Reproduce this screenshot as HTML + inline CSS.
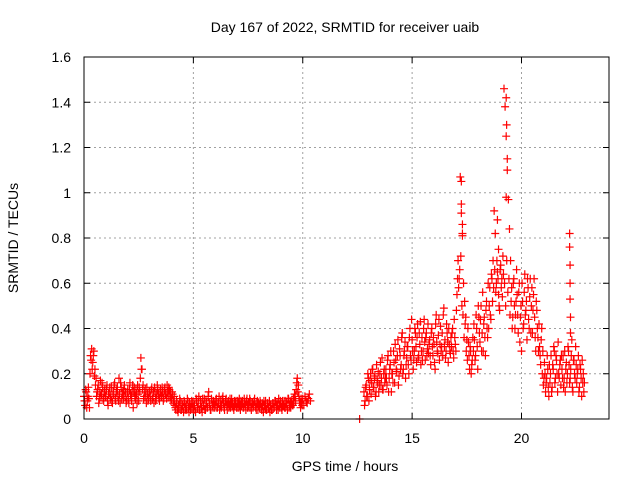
<!DOCTYPE html>
<html><head><meta charset="utf-8"><style>
body{margin:0;background:#fff}
svg{display:block;font-family:"Liberation Sans",sans-serif;font-size:14px}
</style></head><body>
<svg id="chart" width="640" height="480">
<text x="345" y="32" text-anchor="middle">Day 167 of 2022, SRMTID for receiver uaib</text>
<text x="345" y="471" text-anchor="middle">GPS time / hours</text>
<text transform="translate(18,238) rotate(-90)" text-anchor="middle">SRMTID / TECUs</text>
<g id="grid"></g>
<g id="ticks"></g>
<g id="marks"></g>
<rect x="84" y="57" width="525" height="362" fill="none" stroke="#000"/>
</svg>
<script>
const xTicks=[0,5,10,15,20];
const yTicks=[0,0.2,0.4,0.6,0.8,1,1.2,1.4,1.6];
const yTickLabels=["0","0.2","0.4","0.6","0.8","1","1.2","1.4","1.6"];
const seg1Start=0, step=0.05;
const seg1Values=[0.10,0.06,0.12,0.08,0.14,0.05,0.28,0.31,0.25,0.30,0.22,0.18,0.12,0.15,0.09,0.17,0.11,0.14,0.08,0.13,
0.10,0.15,0.06,0.12,0.09,0.14,0.07,0.11,0.16,0.08,0.13,0.10,0.18,0.07,0.14,0.11,0.09,0.15,0.12,0.08,
0.13,0.07,0.16,0.10,0.12,0.05,0.14,0.09,0.11,0.15,0.08,0.12,0.27,0.22,0.15,0.10,0.13,0.07,0.11,0.09,
0.12,0.08,0.14,0.10,0.07,0.12,0.09,0.15,0.11,0.08,0.13,0.10,0.12,0.09,0.14,0.11,0.15,0.10,0.13,0.12,
0.09,0.11,0.08,0.06,0.04,0.07,0.03,0.05,0.08,0.04,0.06,0.03,0.07,0.05,0.04,0.08,0.03,0.06,0.05,0.07,
0.04,0.06,0.03,0.08,0.05,0.10,0.04,0.07,0.03,0.06,0.09,0.04,0.07,0.05,0.12,0.06,0.04,0.08,0.05,0.07,
0.06,0.09,0.05,0.07,0.04,0.08,0.06,0.10,0.05,0.07,0.09,0.04,0.08,0.06,0.05,0.09,0.07,0.04,0.06,0.08,
0.05,0.07,0.09,0.04,0.06,0.08,0.05,0.07,0.04,0.09,0.06,0.05,0.08,0.04,0.07,0.06,0.09,0.05,0.07,0.04,
0.06,0.08,0.05,0.07,0.03,0.06,0.08,0.04,0.07,0.05,0.03,0.06,0.04,0.07,0.05,0.08,0.04,0.06,0.09,0.05,
0.07,0.04,0.06,0.08,0.05,0.07,0.04,0.09,0.06,0.05,0.08,0.06,0.07,0.10,0.13,0.18,0.15,0.08,0.05,0.07,
0.09,0.06,0.10,0.08,0.07,0.09,0.11,0.08];
const seg1ValuesB=[0.08,0.13,0.05,0.10,0.09,0.20,0.26,0.22,0.28,0.19,0.15,0.10,0.13,0.07,0.12,0.10,0.16,0.09,0.12,0.10,
0.13,0.08,0.11,0.14,0.10,0.08,0.12,0.15,0.09,0.12,0.14,0.08,0.11,0.16,0.09,0.12,0.13,0.10,0.07,0.12,
0.09,0.13,0.11,0.08,0.15,0.12,0.10,0.13,0.07,0.11,0.14,0.18,0.22,0.13,0.09,0.12,0.10,0.14,0.08,0.12,
0.10,0.13,0.09,0.12,0.14,0.08,0.11,0.13,0.09,0.12,0.10,0.14,0.08,0.13,0.11,0.09,0.12,0.14,0.10,0.08,
0.12,0.07,0.10,0.05,0.08,0.04,0.06,0.09,0.04,0.07,0.05,0.08,0.04,0.06,0.09,0.05,0.07,0.04,0.08,0.05,
0.07,0.04,0.09,0.05,0.07,0.04,0.08,0.05,0.09,0.06,0.04,0.08,0.05,0.10,0.07,0.04,0.09,0.06,0.08,0.05,
0.08,0.05,0.07,0.10,0.06,0.05,0.09,0.07,0.04,0.08,0.06,0.07,0.05,0.09,0.07,0.06,0.05,0.08,0.07,0.05,
0.08,0.05,0.06,0.08,0.07,0.05,0.09,0.06,0.08,0.05,0.07,0.09,0.05,0.07,0.05,0.08,0.06,0.04,0.08,0.07,
0.05,0.07,0.04,0.06,0.08,0.05,0.04,0.07,0.05,0.08,0.06,0.04,0.07,0.05,0.08,0.06,0.07,0.04,0.06,0.08,
0.05,0.08,0.06,0.05,0.08,0.06,0.09,0.05,0.08,0.07,0.06,0.09,0.11,0.08,0.16,0.12,0.10,0.07,0.09,0.06];
const seg2Start=12.8;
const seg2Values=[0.12,0.08,0.15,0.10,0.18,0.13,0.20,0.16,0.22,0.14,0.19,0.12,0.17,0.21,0.15,0.25,0.18,0.13,0.20,0.16,
0.22,0.15,0.28,0.18,0.24,0.12,0.20,0.30,0.16,0.26,0.21,0.35,0.19,0.28,0.24,0.38,0.22,0.30,0.18,0.27,
0.32,0.20,0.40,0.26,0.35,0.22,0.30,0.38,0.25,0.42,0.28,0.33,0.24,0.36,0.30,0.44,0.26,0.38,0.31,0.29,
0.35,0.24,0.40,0.28,0.33,0.22,0.46,0.30,0.37,0.26,0.41,0.32,0.28,0.49,0.35,0.30,0.38,0.25,0.33,0.29,
0.32,0.40,0.27,0.36,0.30,0.55,0.70,0.62,1.07,0.95,0.82,0.60,0.52,0.45,0.35,0.40,0.28,0.32,0.20,0.26,
0.30,0.35,0.28,0.40,0.22,0.45,0.34,0.50,0.38,0.30,0.45,0.28,0.52,0.36,0.40,0.58,0.44,0.62,0.70,0.92,
0.82,0.60,0.65,0.55,0.48,0.68,0.62,0.72,1.46,1.38,1.25,1.10,0.97,0.84,0.70,0.58,0.45,0.62,0.40,0.52,
0.55,0.38,0.60,0.45,0.30,0.52,0.42,0.64,0.48,0.35,0.58,0.40,0.62,0.50,0.38,0.55,0.45,0.30,0.48,0.36,
0.42,0.28,0.35,0.20,0.15,0.25,0.12,0.18,0.22,0.10,0.16,0.28,0.14,0.22,0.30,0.18,0.26,0.12,0.20,0.24,
0.15,0.22,0.28,0.18,0.12,0.25,0.20,0.30,0.16,0.22,0.35,0.12,0.26,0.18,0.24,0.20,0.28,0.14,0.22,0.10,0.16,0.12];
const seg2ValuesB=[0.06,0.14,0.10,0.20,0.08,0.17,0.11,0.22,0.14,0.18,0.10,0.24,0.16,0.12,0.20,0.15,0.27,0.13,0.22,0.18,
0.18,0.26,0.12,0.22,0.30,0.20,0.16,0.25,0.33,0.22,0.28,0.15,0.31,0.22,0.36,0.20,0.28,0.34,0.24,0.32,
0.24,0.36,0.28,0.44,0.30,0.26,0.40,0.32,0.36,0.27,0.38,0.43,0.30,0.26,0.40,0.34,0.36,0.28,0.42,0.33,
0.28,0.38,0.32,0.36,0.25,0.42,0.34,0.29,0.44,0.33,0.30,0.38,0.46,0.32,0.27,0.42,0.34,0.40,0.30,0.36,
0.38,0.30,0.44,0.33,0.48,0.62,0.58,0.66,0.72,0.50,0.46,0.36,0.42,0.30,0.26,0.34,0.22,0.30,0.24,0.36,
0.42,0.26,0.46,0.32,0.50,0.38,0.44,0.30,0.56,0.42,0.36,0.48,0.40,0.60,0.50,0.46,0.64,0.52,0.58,0.66,
0.56,0.70,0.62,0.50,0.66,0.58,0.54,0.64,0.60,0.50,0.70,0.56,0.62,0.46,0.52,0.40,0.60,0.50,0.46,0.66,
0.46,0.56,0.34,0.50,0.60,0.40,0.56,0.46,0.52,0.62,0.44,0.54,0.38,0.58,0.48,0.62,0.36,0.52,0.40,0.30,
0.32,0.24,0.40,0.30,0.18,0.20,0.16,0.28,0.14,0.24,0.20,0.12,0.24,0.32,0.16,0.28,0.20,0.34,0.18,0.26,
0.28,0.18,0.14,0.30,0.22,0.16,0.32,0.24,0.18,0.28,0.14,0.26,0.20,0.32,0.16,0.22,0.12,0.24,0.18,0.26,0.20,0.16];
const extraTimes=[12.6,17.25,17.25,17.3,17.3,18.9,18.95,19.3,19.32,19.35,19.3,22.2,22.2,22.22,22.22,22.22,22.24,22.24];
const extraValues=[0.0,1.05,0.91,0.86,0.81,0.88,0.75,1.42,1.30,1.15,0.98,0.82,0.76,0.68,0.60,0.53,0.45,0.38];
const sx=v=>84+v*525/24, sy=v=>419-v*362/1.6;
const NS="http://www.w3.org/2000/svg";
const grid=document.getElementById('grid'),ticks=document.getElementById('ticks'),marks=document.getElementById('marks');
function ln(p,x1,y1,x2,y2,st,dash){const l=document.createElementNS(NS,'line');l.setAttribute('x1',x1);l.setAttribute('y1',y1);l.setAttribute('x2',x2);l.setAttribute('y2',y2);l.setAttribute('stroke',st);if(dash)l.setAttribute('stroke-dasharray',dash);p.appendChild(l);return l;}
xTicks.forEach(t=>{const x=sx(t);
 const g=ln(grid,x,57,x,419,'#a0a0a0','2,3');
 
 
 ln(ticks,x,419,x,413,'#000');ln(ticks,x,57,x,63,'#000');
 const tx=document.createElementNS(NS,'text');tx.setAttribute('x',x);tx.setAttribute('y',443);tx.setAttribute('text-anchor','middle');tx.textContent=t;
 
 
 ticks.appendChild(tx);});
yTicks.forEach((t,i)=>{const y=sy(t);
 const g=ln(grid,84,y,609,y,'#a0a0a0','2,3');
 
 
 ln(ticks,84,y,90,y,'#000');ln(ticks,609,y,603,y,'#000');
 const tx=document.createElementNS(NS,'text');tx.setAttribute('x',71);tx.setAttribute('y',y+5);tx.setAttribute('text-anchor','end');tx.textContent=yTickLabels[i];
 
 
 ticks.appendChild(tx);});
let d='';
function cross(t,v){const x=sx(t),y=sy(v);d+=`M${x-4},${y}h8M${x},${y-4}v8`;}
seg1Values.forEach((v,i)=>cross(seg1Start+i*step,v));
seg1ValuesB.forEach((v,i)=>cross(seg1Start+0.025+i*step,v));
seg2Values.forEach((v,i)=>cross(seg2Start+i*step,v));
seg2ValuesB.forEach((v,i)=>cross(seg2Start+0.025+i*step,v));
extraTimes.forEach((t,i)=>cross(t,extraValues[i]));
const p=document.createElementNS(NS,'path');p.setAttribute('d',d);p.setAttribute('stroke','#ff0000');p.setAttribute('stroke-width','1.2');p.setAttribute('fill','none');


marks.appendChild(p);
</script>
</body></html>
